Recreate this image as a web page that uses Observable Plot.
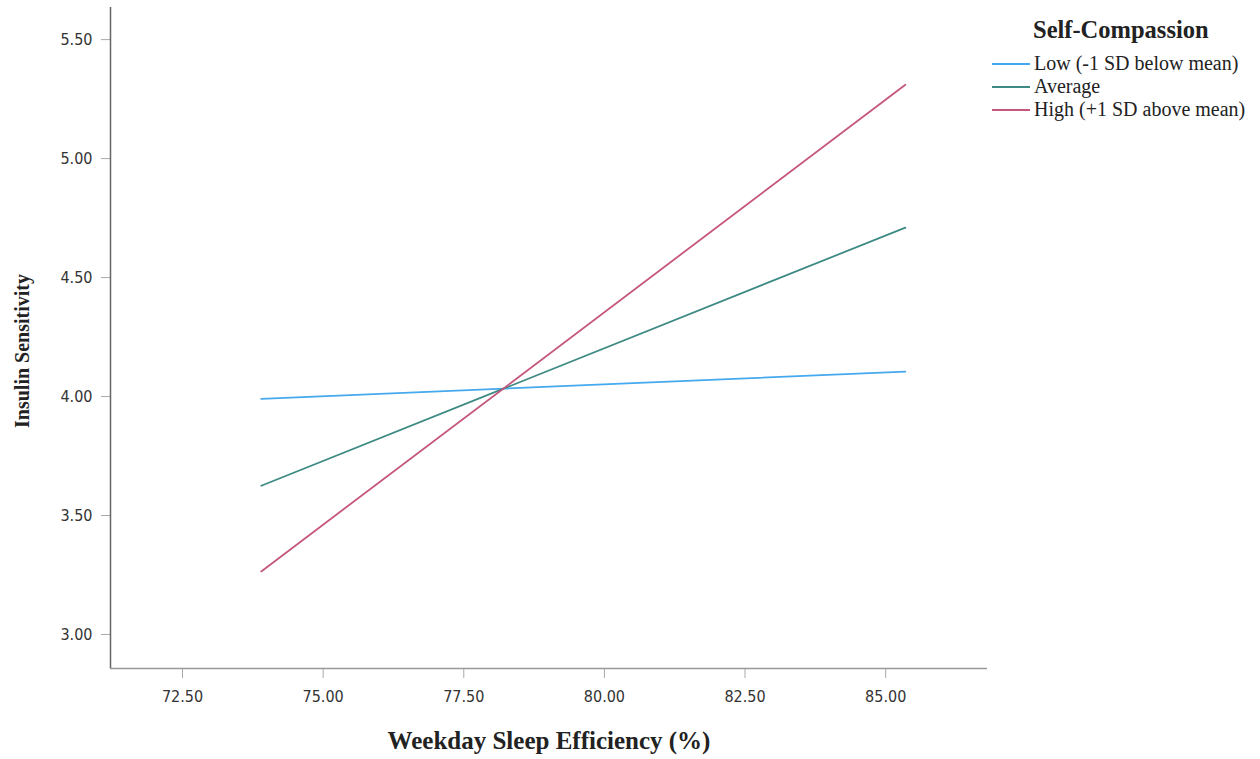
<!DOCTYPE html>
<html>
<head>
<meta charset="utf-8">
<script src="https://cdn.jsdelivr.net/npm/d3@7"></script>
<script src="https://cdn.jsdelivr.net/npm/@observablehq/plot@0.6"></script>
<style>
  html, body { margin: 0; padding: 0; background: #fff; }
  #wrap { position: relative; width: 1260px; height: 759px; }
  #legend { position: absolute; left: 0; top: 0; pointer-events: none; }
</style>
</head>
<body>
<div id="wrap"></div>
<script>
const seriesNames = ["Low (-1 SD below mean)", "Average", "High (+1 SD above mean)"];
const seriesColors = ["#45a9ef", "#3e8a84", "#c5567d"];
const legendTitle = "Self-Compassion";
const sleepEfficiency = [73.9, 85.35];
const lowValues = [3.99, 4.105];
const averageValues = [3.625, 4.71];
const highValues = [3.265, 5.31];
const xTicks = [72.5, 75, 77.5, 80, 82.5, 85];
const yTicks = [3.0, 3.5, 4.0, 4.5, 5.0, 5.5];

const seriesValues = [lowValues, averageValues, highValues];
const data = [];
seriesNames.forEach((name, i) => {
  sleepEfficiency.forEach((x, j) => data.push({series: name, x, y: seriesValues[i][j]}));
});

const fmt = d3.format(".2f");
const plot = Plot.plot({
  width: 1260,
  height: 759,
  marginLeft: 110,
  marginRight: 273,
  marginTop: 7,
  marginBottom: 91,
  style: {background: "#fff", fontFamily: "'DejaVu Sans Condensed', 'DejaVu Sans', sans-serif", fontStretch: "condensed", fontSize: "16px", color: "#333"},
  x: {domain: [71.22, 86.81], ticks: xTicks, tickFormat: fmt},
  y: {domain: [2.857, 5.635], ticks: yTicks, tickFormat: fmt},
  color: {domain: seriesNames, range: seriesColors},
  marks: [
    Plot.axisX({ticks: xTicks, tickFormat: fmt, tickSize: 10, tickPadding: 12, stroke: "#aaa", strokeOpacity: 1, label: null, fill: "#333"}),
    Plot.axisY({ticks: yTicks, tickFormat: fmt, tickSize: 9, tickPadding: 9, stroke: "#aaa", strokeOpacity: 1, label: null, fill: "#333"}),
    Plot.ruleY([2.857], {stroke: "#999", strokeWidth: 1.5}),
    Plot.ruleX([71.22], {stroke: "#666", strokeWidth: 1.5}),
    Plot.line(data, {x: "x", y: "y", z: "series", stroke: "series", strokeWidth: 1.8}),
    Plot.text(["Weekday Sleep Efficiency (%)"], {frameAnchor: "bottom", textAnchor: "middle", dy: 80, text: d => d, fontFamily: "Liberation Serif, serif", fontWeight: "bold", fontSize: 25, fill: "#222"}),
    Plot.text(["Insulin Sensitivity"], {frameAnchor: "left", textAnchor: "middle", dx: -88, dy: 13, rotate: -90, text: d => d, fontFamily: "Liberation Serif, serif", fontWeight: "bold", fontSize: 20, fill: "#222"})
  ]
});
const wrap = document.getElementById("wrap");
wrap.appendChild(plot);

// Legend (overlay on the right)
const svgNS = "http://www.w3.org/2000/svg";
const lg = document.createElementNS(svgNS, "svg");
lg.setAttribute("id", "legend");
lg.setAttribute("width", 1260);
lg.setAttribute("height", 160);
const tt = document.createElementNS(svgNS, "text");
tt.setAttribute("x", 1033);
tt.setAttribute("y", 38);
tt.setAttribute("font-family", "Liberation Serif, serif");
tt.setAttribute("font-weight", "bold");
tt.setAttribute("font-size", 24.5);
tt.setAttribute("fill", "#222");
tt.textContent = legendTitle;
lg.appendChild(tt);
seriesNames.forEach((name, i) => {
  const cy = 64 + i * 23;
  const ln = document.createElementNS(svgNS, "line");
  ln.setAttribute("x1", 992); ln.setAttribute("x2", 1030);
  ln.setAttribute("y1", cy); ln.setAttribute("y2", cy);
  ln.setAttribute("stroke", seriesColors[i]);
  ln.setAttribute("stroke-width", 2);
  lg.appendChild(ln);
  const tx = document.createElementNS(svgNS, "text");
  tx.setAttribute("x", 1034);
  tx.setAttribute("y", cy + 6);
  tx.setAttribute("font-family", "Liberation Serif, serif");
  tx.setAttribute("font-size", 20);
  tx.setAttribute("fill", "#222");
  tx.textContent = name;
  lg.appendChild(tx);
});
wrap.appendChild(lg);
</script>
</body>
</html>
